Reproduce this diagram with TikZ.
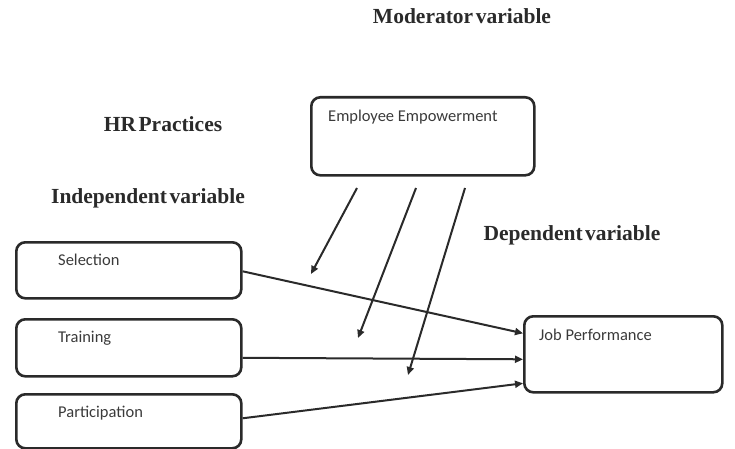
\documentclass[tikz,border=0pt]{standalone}
\usepackage{fontspec}
\setmainfont{Liberation Serif}
\newfontfamily\boxfont{Carlito}
\usetikzlibrary{arrows.meta}
\definecolor{ink}{HTML}{2A2A2A}
\definecolor{txt}{HTML}{3A3A3A}
% narrow word gaps for the bold headings
\newcommand\narrowwords[1]{{\spaceskip=2.5pt\relax #1}}
\begin{document}
\begin{tikzpicture}[x=1pt,y=-1pt,
  box/.style={draw=ink, line width=2.6pt, rounded corners=9pt, inner sep=0pt},
  boxtext/.style={anchor=base west, inner sep=0pt, text=txt, font=\boxfont\fontsize{16.5}{18}\selectfont},
  heading/.style={anchor=base, inner sep=0pt, text=ink, font=\fontsize{21.5}{24}\selectfont\bfseries},
  arr/.style={draw=ink, line width=2pt, -{Triangle[length=8pt,width=7pt]}}]
\useasboundingbox (0,0) rectangle (735,449);

% headings
\node[heading] (mod) at (462,24) {\narrowwords{Moderator variable}};
\node[heading] (hr) at (163,132) {\narrowwords{HR Practices}};
\node[heading] (ind) at (148,203) {\narrowwords{Independent variable}};
\node[heading] (dep) at (572,240) {\narrowwords{Dependent variable}};

% moderator box
\node[box, anchor=north west, minimum width=223pt, minimum height=78pt] (emp) at (310,96) {};
\node[boxtext] (empt) at ([xshift=18pt,yshift=-26pt]emp.north west) {Employee Empowerment};

% independent variables
\node[box, anchor=north west, minimum width=225pt, minimum height=56pt] (sel) at (15,241) {};
\node[boxtext] (selt) at ([xshift=43pt,yshift=-24pt]sel.north west) {Selection};
\node[box, anchor=north west, minimum width=225pt, minimum height=57pt] (trn) at (15,318) {};
\node[boxtext] (trnt) at ([xshift=43pt,yshift=-24pt]trn.north west) {Training};
\node[box, anchor=north west, minimum width=225pt, minimum height=54pt] (par) at (15,393) {};
\node[boxtext] (part) at ([xshift=43pt,yshift=-24pt]par.north west) {Participation};

% dependent variable
\node[box, anchor=north west, minimum width=198pt, minimum height=76pt] (job) at (523,315) {};
\node[boxtext] (jobt) at ([xshift=16pt,yshift=-25pt]job.north west) {Job Performance};

% direct effects
\draw[arr] ([yshift=-1pt]sel.east) -- ([yshift=21pt]job.west);
\draw[arr] ([yshift=-10pt]trn.east) -- ([yshift=-5pt]job.west);
\draw[arr] ([yshift=3pt]par.east) -- ([yshift=-29pt]job.west);

% moderating effects
\coordinate (m1s) at (357,188);
\coordinate (m1e) at (311,274);
\coordinate (m2s) at (416,188);
\coordinate (m2e) at (358,338);
\coordinate (m3s) at (465,188);
\coordinate (m3e) at (408,375);
\draw[arr] (m1s) -- (m1e);
\draw[arr] (m2s) -- (m2e);
\draw[arr] (m3s) -- (m3e);
\end{tikzpicture}
\end{document}
